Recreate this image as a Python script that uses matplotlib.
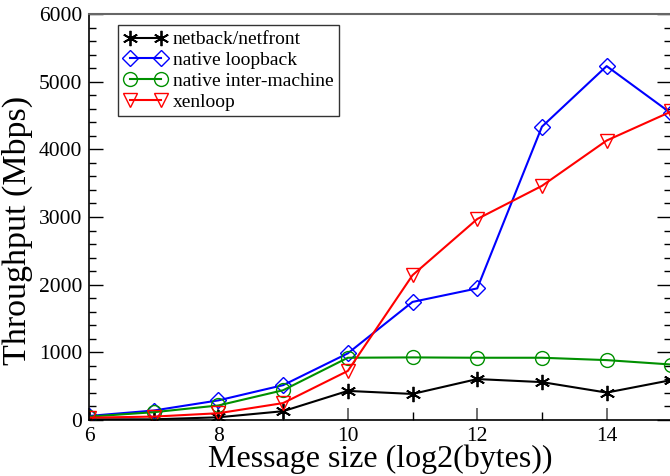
import matplotlib
matplotlib.use("Agg")
import matplotlib.pyplot as plt
from matplotlib.ticker import MultipleLocator

sizes = [6, 7, 8, 9, 10, 11, 12, 13, 14, 15]
netback = [10, 10, 40, 130, 430, 385, 605, 560, 405, 590]
loopback = [60, 140, 290, 515, 985, 1745, 1945, 4335, 5230, 4530]
intermachine = [50, 115, 215, 440, 920, 925, 920, 920, 885, 820]
xenloop = [35, 50, 100, 250, 725, 2140, 2970, 3460, 4130, 4560]

series_names = ["netback/netfront", "native loopback", "native inter-machine", "xenloop"]

plt.rcParams['font.family'] = ['Liberation Serif', 'DejaVu Serif']

fig = plt.figure(figsize=(6.7, 4.76), dpi=100)
ax = fig.add_axes([89/670, 1 - 420/476, 1.0 - 89/670 + 0.002, (420 - 14)/476])

lw = 1.5
ax.plot(sizes, netback, color='black', marker=(6, 2, 0), markersize=11, lw=lw,
        markeredgewidth=1.3, label=series_names[0])
ax.plot(sizes, loopback, color='blue', marker='D', markersize=8, lw=lw,
        markerfacecolor='none', markeredgewidth=1.0, label=series_names[1])
ax.plot(sizes, intermachine, color='#009000', marker='o', markersize=10, lw=lw,
        markerfacecolor='none', markeredgewidth=1.0, label=series_names[2])
ax.plot(sizes, xenloop, color='red', marker='v', markersize=10, lw=lw,
        markerfacecolor='none', markeredgewidth=1.0, label=series_names[3])

ax.set_xlim(6, 15)
ax.set_ylim(0, 6000)
ax.xaxis.set_major_locator(MultipleLocator(2))
ax.xaxis.set_minor_locator(MultipleLocator(1))
ax.yaxis.set_major_locator(MultipleLocator(1000))
ax.yaxis.set_minor_locator(MultipleLocator(200))

ax.tick_params(axis='both', which='both', direction='in')
ax.tick_params(axis='y', which='both', right=True)
ax.tick_params(axis='x', which='major', length=9, width=1.2, color='#555555', pad=5)
ax.tick_params(axis='x', which='minor', length=6, width=1)
ax.tick_params(axis='y', which='major', length=10, width=1)
ax.tick_params(axis='y', which='minor', length=5, width=1)
ax.tick_params(axis='both', which='major', labelsize=15.5)
ax.tick_params(axis='y', pad=5)

ax.spines['top'].set_color('#666666')
ax.spines['top'].set_linewidth(1.5)
ax.spines['left'].set_linewidth(1.2)
ax.spines['bottom'].set_linewidth(1.2)

ax.set_xlabel("Message size (log2(bytes))", fontsize=23, labelpad=-1)
ax.set_ylabel("Throughput (Mbps)", fontsize=24.5)
ax.yaxis.set_label_coords(-0.097, 0.466)

leg = ax.legend(loc='upper left', bbox_to_anchor=(29/581, 1 - 11/406), numpoints=2,
                fontsize=14, frameon=True, fancybox=False, edgecolor='black',
                handlelength=2.2, handletextpad=0.3, borderpad=0.3, labelspacing=0.16,
                borderaxespad=0)
leg.get_frame().set_linewidth(1.0)

fig.savefig("out.png", dpi=100)
